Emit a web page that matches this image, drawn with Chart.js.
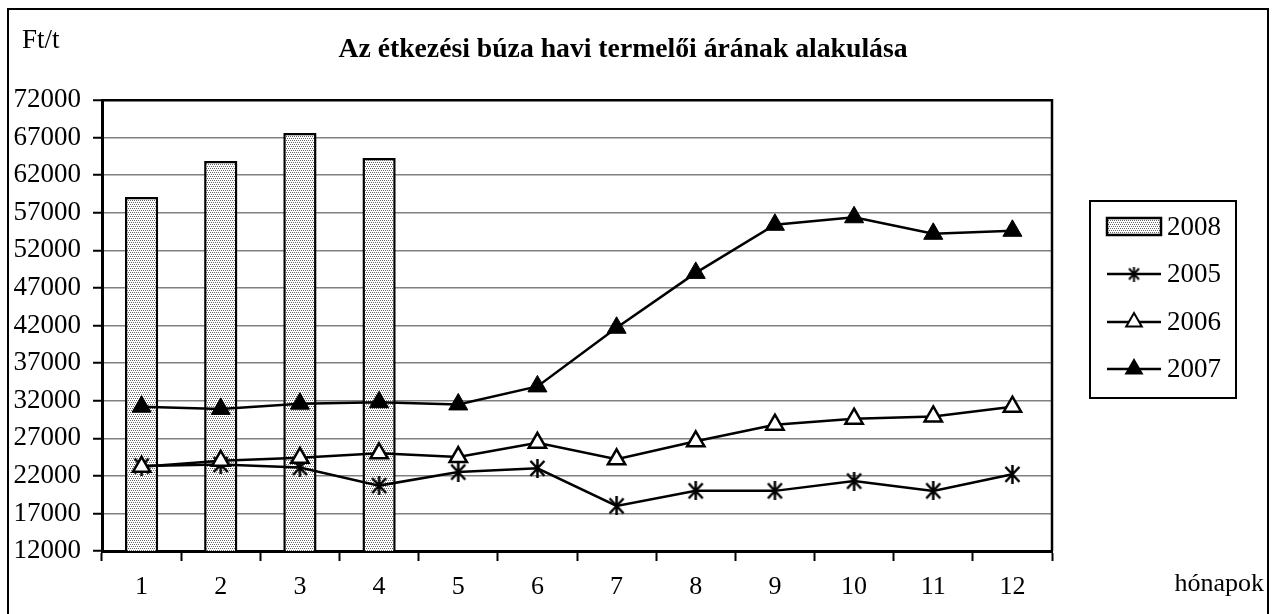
<!DOCTYPE html>
<html>
<head>
<meta charset="utf-8">
<script src="https://cdn.jsdelivr.net/npm/chart.js@4"></script>
<style>
  body { margin: 0; background: #fff; }
</style>
</head>
<body>
<canvas id="grafikon" width="1275" height="614"></canvas>
<script>
// adatok
const honapok = ['1', '2', '3', '4', '5', '6', '7', '8', '9', '10', '11', '12'];
const ev2008 = [59100, 63900, 67600, 64300, null, null, null, null, null, null, null, null];
const ev2005 = [23300, 23500, 23100, 20700, 22500, 23000, 18000, 20000, 20000, 21300, 20000, 22200];
const ev2006 = [23200, 24000, 24400, 25000, 24500, 26400, 24200, 26600, 28800, 29600, 29900, 31200];
const ev2007 = [31200, 30900, 31600, 31800, 31500, 33900, 41700, 49000, 55400, 56400, 54200, 54600];
const yMin = 12000;
const yMax = 72000;
const yLepes = 5000;

const betu = 'Liberation Serif, Times New Roman, serif';

// pontozott kitoltes az oszlopokhoz
function pontozott() {
    const c = document.createElement('canvas');
    c.width = 4; c.height = 4;
    const g = c.getContext('2d');
    g.fillStyle = '#fff';
    g.fillRect(0, 0, 4, 4);
    g.fillStyle = '#666';
    g.fillRect(0, 0, 1, 1);
    g.fillRect(2, 0, 1, 1);
    g.fillRect(1, 2, 1, 1);
    g.fillRect(3, 2, 1, 1);
    return document.getElementById('grafikon').getContext('2d').createPattern(c, 'repeat');
}

// csillag jelolo (X + fuggoleges vonal)
function csillag(w, h, vastag) {
    const c = document.createElement('canvas');
    c.width = w; c.height = h;
    const g = c.getContext('2d');
    g.strokeStyle = '#000';
    g.lineWidth = vastag;
    g.beginPath();
    g.moveTo(1.5, 2); g.lineTo(w - 1.5, h - 2);
    g.moveTo(w - 1.5, 2); g.lineTo(1.5, h - 2);
    g.moveTo(w / 2, 0); g.lineTo(w / 2, h);
    g.stroke();
    return c;
}

const minta = pontozott();
const csillagNagy = csillag(17, 19, 2.5);
const csillagKicsi = csillag(13, 15, 2);

const feliratok = {
    id: 'feliratok',
    afterDraw(chart) {
        const ctx = chart.ctx;
        const ca = chart.chartArea;
        ctx.save();
        ctx.strokeStyle = '#000';
        ctx.lineWidth = 2;
        ctx.strokeRect(8, 9, 1260, 620);

        // plot jobb szele
        ctx.lineWidth = 2.5;
        ctx.beginPath();
        ctx.moveTo(ca.right, ca.top - 1);
        ctx.lineTo(ca.right, ca.bottom);
        ctx.stroke();

        ctx.fillStyle = '#000';
        ctx.textBaseline = 'alphabetic';
        ctx.font = '27px ' + betu;
        ctx.textAlign = 'left';
        ctx.fillText('Ft/t', 22, 48);

        ctx.font = 'bold 27.7px ' + betu;
        ctx.textAlign = 'center';
        ctx.fillText('Az étkezési búza havi termelői árának alakulása', 623, 57);

        ctx.font = '26px ' + betu;
        ctx.textAlign = 'right';
        ctx.fillText('hónapok', 1264, 591);

        // jelmagyarazat
        ctx.lineWidth = 2;
        ctx.strokeRect(1090, 201, 146, 197);
        const sorrend = [0, 1, 2, 3];
        const sorY = [227, 274, 322, 369];
        ctx.font = '27px ' + betu;
        ctx.textAlign = 'left';
        ctx.textBaseline = 'middle';
        sorrend.forEach((i, k) => {
            const ds = chart.data.datasets[i];
            const y = sorY[k];
            if (ds.type === 'bar') {
                ctx.fillStyle = minta;
                ctx.fillRect(1107, y - 9, 54, 17);
                ctx.lineWidth = 2.5;
                ctx.strokeRect(1107, y - 9, 54, 17);
            } else {
                ctx.strokeStyle = '#000';
                ctx.lineWidth = 2.5;
                ctx.beginPath();
                ctx.moveTo(1107, y);
                ctx.lineTo(1161, y);
                ctx.stroke();
                if (ds.pointStyle === 'triangle') {
                    const r = 9;
                    ctx.lineWidth = 2;
                    ctx.beginPath();
                    ctx.moveTo(1134, y - r);
                    ctx.lineTo(1134 + r * 0.866, y + r / 2);
                    ctx.lineTo(1134 - r * 0.866, y + r / 2);
                    ctx.closePath();
                    ctx.fillStyle = ds.pointBackgroundColor;
                    ctx.fill();
                    ctx.stroke();
                } else {
                    ctx.drawImage(csillagKicsi, 1134 - 6.5, y - 7.5);
                }
            }
            ctx.fillStyle = '#000';
            ctx.fillText(ds.label, 1167, y + 1);
        });
        ctx.restore();
    }
};

const ctx = document.getElementById('grafikon').getContext('2d');

new Chart(ctx, {
    type: 'bar',
    data: {
        labels: honapok,
        datasets: [
            {
                type: 'bar',
                label: '2008',
                data: ev2008,
                backgroundColor: minta,
                borderColor: '#000',
                borderWidth: 2.5,
                barPercentage: 0.42,
                categoryPercentage: 1,
                order: 4
            },
            {
                type: 'line',
                label: '2005',
                data: ev2005,
                borderColor: '#000',
                borderWidth: 2.5,
                pointStyle: csillagNagy,
                pointRadius: 8,
                pointBackgroundColor: '#000',
                tension: 0,
                order: 3
            },
            {
                type: 'line',
                label: '2006',
                data: ev2006,
                borderColor: '#000',
                borderWidth: 2.5,
                pointStyle: 'triangle',
                pointRadius: 10,
                pointBackgroundColor: '#fff',
                pointBorderColor: '#000',
                pointBorderWidth: 2.5,
                tension: 0,
                order: 2
            },
            {
                type: 'line',
                label: '2007',
                data: ev2007,
                borderColor: '#000',
                borderWidth: 2.5,
                pointStyle: 'triangle',
                pointRadius: 11,
                pointBackgroundColor: '#000',
                pointBorderColor: '#000',
                pointBorderWidth: 1,
                tension: 0,
                order: 1
            }
        ]
    },
    options: {
        responsive: false,
        animation: false,
        layout: {
            padding: { top: 100, right: 223, left: 0, bottom: 0 }
        },
        plugins: {
            legend: { display: false },
            tooltip: { enabled: false },
            title: { display: false }
        },
        scales: {
            x: {
                offset: true,
                afterFit: function (scale) { scale.height = 63; },
                grid: {
                    offset: true,
                    drawOnChartArea: false,
                    drawTicks: true,
                    tickLength: 10,
                    tickColor: '#000',
                    tickWidth: 2
                },
                border: { color: '#000', width: 3 },
                ticks: {
                    color: '#000',
                    font: { family: betu, size: 26 },
                    padding: 11,
                    maxRotation: 0
                }
            },
            y: {
                min: yMin,
                max: yMax,
                afterFit: function (scale) { scale.width = 102; },
                grid: {
                    color: function (c) { return c.tick && c.tick.value === yMax ? '#000' : '#808080'; },
                    lineWidth: function (c) { return c.tick && c.tick.value === yMax ? 2.5 : 1.5; },
                    tickLength: 9,
                    tickColor: '#000',
                    tickWidth: 2
                },
                border: { color: '#000', width: 3 },
                ticks: {
                    stepSize: yLepes,
                    color: '#000',
                    font: { family: betu, size: 27 },
                    padding: 12,
                    callback: function (v) { return String(v); }
                }
            }
        }
    },
    plugins: [feliratok]
});
</script>
</body>
</html>
